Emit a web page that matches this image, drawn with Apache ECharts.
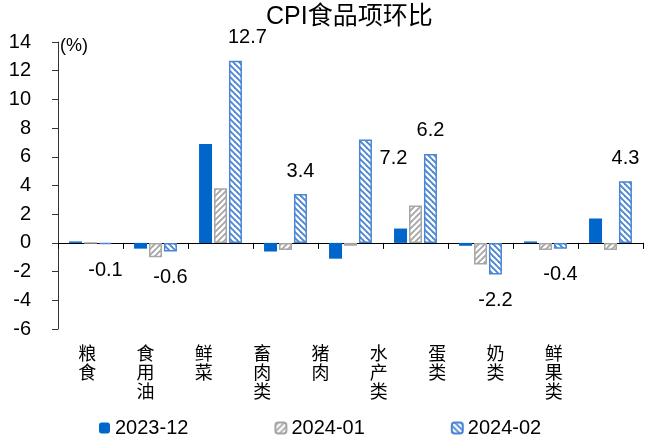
<!DOCTYPE html>
<html>
<head>
<meta charset="utf-8">
<script src="https://cdn.jsdelivr.net/npm/echarts@6/dist/echarts.min.js"></script>
<style>html,body{margin:0;padding:0;background:#fff;}#c{width:646px;height:439px;}</style>
</head>
<body>
<div id="c"></div>
<script>
var categories = ['粮食','食用油','鲜菜','畜肉类','猪肉','水产类','蛋类','奶类','鲜果类'];
var seriesNames = ['2023-12','2024-01','2024-02'];
var s202312 = [0.1, -0.4, 6.9, -0.6, -1.1, 1.0, -0.2, 0.1, 1.7];
var s202401 = [0.0, -1.0, 3.8, -0.5, -0.2, 2.6, -1.5, -0.5, -0.5];
var s202402 = [-0.1, -0.6, 12.7, 3.4, 7.2, 6.2, -2.2, -0.4, 4.3];
var yTicks = {min: -6, max: 14, interval: 2};

// label nudges for the labelled series (layout only)
var labelNudge = {2: [12, 0], 4: [28, 42]};

function makePattern(bg, fg, dir) {
  var s = 6;
  var c = document.createElement('canvas');
  c.width = s; c.height = s;
  var g = c.getContext('2d');
  g.fillStyle = bg; g.fillRect(0, 0, s, s);
  g.strokeStyle = fg; g.lineWidth = 2.4;
  for (var k = -1; k <= 1; k++) {
    g.beginPath();
    if (dir === '/') { g.moveTo(k * s - 1, s + 1); g.lineTo(k * s + s + 1, -1); }
    else { g.moveTo(k * s - 1, -1); g.lineTo(k * s + s + 1, s + 1); }
    g.stroke();
  }
  return {image: c, repeat: 'repeat'};
}

var FONT = 'Liberation Sans, Arial, sans-serif';
var chart = echarts.init(document.getElementById('c'));
var blue = '#0066CC', gray = '#A6A6A6', hblue = '#4A86D4';

var option = {
  animation: false,
  graphic: [
    {type: 'text', left: 266, top: 5, style: {text: 'CPI食品项环比', font: '25px "Liberation Sans", "Noto Sans CJK SC", sans-serif', fill: '#000'}},
    {type: 'text', left: 60, top: 37, style: {text: '(%)', font: '18px ' + FONT, fill: '#000'}}
  ],
  legend: {
    left: 99, top: 418, padding: 0, itemWidth: 11, itemHeight: 11, itemGap: 86,
    textStyle: {fontSize: 20, fontFamily: FONT, color: '#000'},
    data: seriesNames
  },
  grid: [
    {left: 58, right: 3, top: 42, bottom: 110},
    {left: 58, right: 63, top: 42, bottom: 110}
  ],
  xAxis: [
    {type: 'category', gridIndex: 0, data: categories,
     axisLine: {onZero: true, lineStyle: {color: '#000', width: 1}},
     axisTick: {show: true, length: 6, lineStyle: {color: '#000'}},
     axisLabel: {show: false}},
    {type: 'category', gridIndex: 1, data: categories, position: 'bottom',
     axisLine: {show: false, onZero: false}, axisTick: {show: false},
     axisLabel: {margin: 15, fontSize: 18, lineHeight: 19, color: '#000',
       fontFamily: '"Noto Sans CJK SC", sans-serif',
       formatter: function (v) { return v.split('').join('\n'); }}}
  ],
  yAxis: [
    {type: 'value', gridIndex: 0, min: yTicks.min, max: yTicks.max, interval: yTicks.interval,
     axisLine: {show: true, lineStyle: {color: '#333'}},
     axisTick: {show: true, length: 6, lineStyle: {color: '#333'}},
     splitLine: {show: false},
     axisLabel: {margin: 27, fontSize: 20, fontFamily: FONT, color: '#000'}},
    {type: 'value', gridIndex: 1, min: yTicks.min, max: yTicks.max, show: false}
  ],
  series: [
    {name: seriesNames[0], type: 'bar', barWidth: 13, barGap: '15%', data: s202312,
     itemStyle: {color: blue}},
    {name: seriesNames[1], type: 'bar', barWidth: 13, barGap: '15%', data: s202401,
     itemStyle: {color: makePattern(gray, '#fff', '/'), borderColor: gray, borderWidth: 1.5}},
    {name: seriesNames[2], type: 'bar', barWidth: 13, barGap: '15%',
     itemStyle: {color: makePattern(hblue, '#fff', '\\'), borderColor: hblue, borderWidth: 1.5},
     data: s202402.map(function (v, i) {
       return {value: v, label: {show: true, position: v < 0 ? 'bottom' : 'top',
         distance: v < 0 ? 16 : 13, offset: labelNudge[i] || [0, 0]}};
     }),
     label: {fontSize: 20, fontFamily: FONT, color: '#000',
       formatter: function (p) { return p.value.toFixed(1); }}}
  ]
};
chart.setOption(option);
</script>
</body>
</html>
